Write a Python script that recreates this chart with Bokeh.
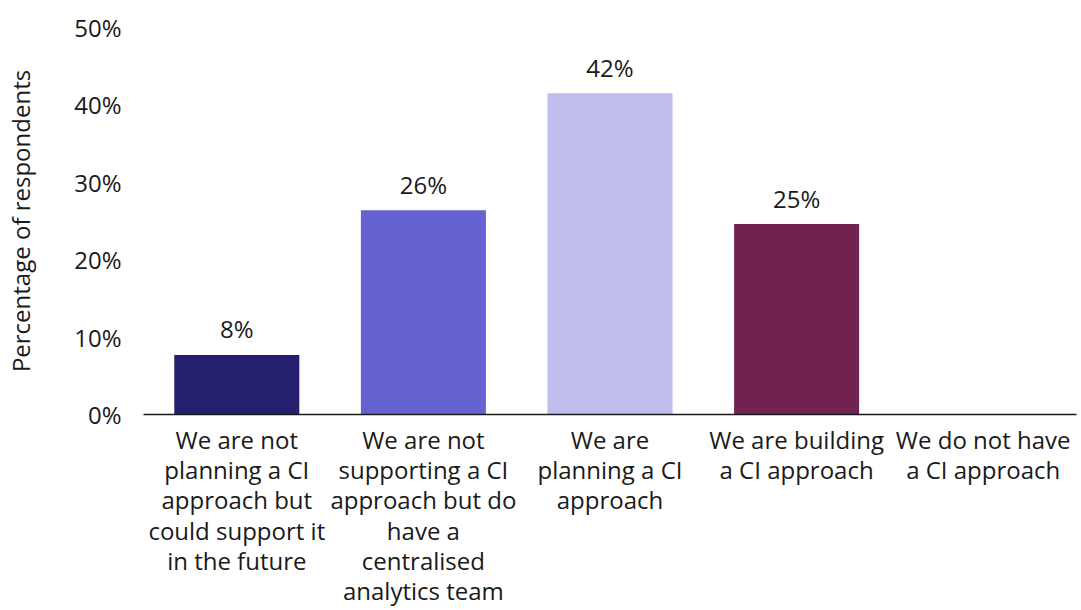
from bokeh.plotting import figure
from bokeh.models import ColumnDataSource, FactorRange, FixedTicker, NumeralTickFormatter
from bokeh.embed import file_html
from bokeh.resources import INLINE
from bokeh.core.properties import value

categories = [
    "We are not\nplanning a CI\napproach but\ncould support it\nin the future",
    "We are not\nsupporting a CI\napproach but do\nhave a\ncentralised\nanalytics team",
    "We are\nplanning a CI\napproach",
    "We are building\na CI approach",
    "We do not have\na CI approach",
]
values = [0.077, 0.264, 0.415, 0.246, 0.0]
colors = ["#241F6E", "#6762D1", "#BFBDEC", "#70234F", "#FFFFFF"]
y_ticks = [0.0, 0.1, 0.2, 0.3, 0.4, 0.5]

FONT = "Open Sans"
FS = "24px"

labels = [f"{round(v * 100)}%" if v > 0 else "" for v in values]
src = ColumnDataSource(dict(cat=categories, val=values, color=colors, label=labels))

p = figure(
    width=1081, height=610,
    x_range=FactorRange(*categories, range_padding=0),
    y_range=(0, 0.5),
    output_backend="svg", toolbar_location=None,
    min_border_left=143, min_border_right=5, min_border_top=27, min_border_bottom=190,
)
p.outline_line_color = None
p.xgrid.grid_line_color = None
p.ygrid.grid_line_color = None
p.background_fill_color = "white"
p.border_fill_color = "white"

p.vbar(x="cat", top="val", width=0.67, color="color", source=src, line_color=None)
p.text(x="cat", y="val", text="label", source=src, text_align="center",
       text_baseline="alphabetic", y_offset=-26, text_font=value(FONT),
       text_font_size=FS, text_color="#1a1a1a")

# y axis
ya = p.yaxis[0]
ya.ticker = FixedTicker(ticks=y_ticks)
ya.formatter = NumeralTickFormatter(format="0%")
ya.axis_line_color = None
ya.major_tick_line_color = None
ya.minor_tick_line_color = None
ya.major_tick_out = 0
ya.major_tick_in = 0
ya.major_label_standoff = 22
ya.major_label_text_font = FONT
ya.major_label_text_font_size = FS
ya.major_label_text_color = "#1a1a1a"
ya.axis_label = "Percentage of respondents"
ya.axis_label_text_font = FONT
ya.axis_label_text_font_size = FS
ya.axis_label_text_font_style = "normal"
ya.axis_label_text_color = "#1a1a1a"
ya.axis_label_standoff = 34

# x axis
xa = p.xaxis[0]
xa.axis_line_color = "#1a1a1a"
xa.axis_line_width = 1.5
xa.major_tick_line_color = None
xa.minor_tick_line_color = None
xa.major_tick_out = 0
xa.major_tick_in = 0
xa.major_label_standoff = 8
xa.major_label_orientation = "horizontal"
xa.major_label_text_font = FONT
xa.major_label_text_font_size = FS
xa.major_label_text_color = "#1a1a1a"
xa.major_label_text_line_height = 0.92

open("out.html", "w").write(file_html(p, INLINE))
